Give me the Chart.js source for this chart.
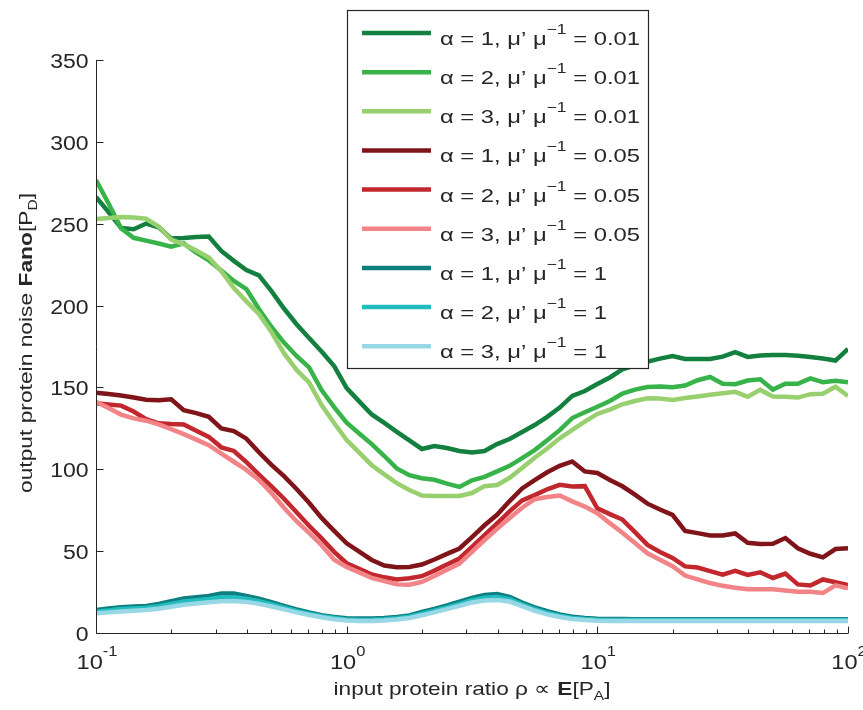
<!DOCTYPE html>
<html>
<head>
<meta charset="utf-8">
<script src="https://cdn.jsdelivr.net/npm/chart.js@4/dist/chart.umd.min.js"></script>
<style>
html,body{margin:0;padding:0;background:#fff;}
canvas{display:block;}
</style>
</head>
<body>
<canvas id="c" width="863" height="710"></canvas>
<script>
// x sample points (input protein ratio), log-spaced
const xs = [0.1,0.1122,0.1259,0.1413,0.1585,0.1778,0.1995,0.2239,0.2512,0.2818,
  0.3162,0.3548,0.3981,0.4467,0.5012,0.5623,0.631,0.7079,0.7943,0.8913,
  1,1.122,1.259,1.413,1.585,1.778,1.995,2.239,2.512,2.818,
  3.162,3.548,3.981,4.467,5.012,5.623,6.31,7.079,7.943,8.913,
  10,11.22,12.59,14.13,15.85,17.78,19.95,22.39,25.12,28.18,
  31.62,35.48,39.81,44.67,50.12,56.23,63.1,70.79,79.43,89.13,100];

// alpha = 1, mu'/mu = 0.01
const fanoA1M001 = [266.3,257.1,247.4,246.6,250.1,247.8,241,241.3,241.9,242.2,
  233.4,227.3,221.7,218.4,208.8,198.2,188.6,180.2,171.9,163,
  149.6,141.5,133.5,128.3,122.9,117.6,112.4,114.2,113,111.2,
  110.3,111.2,115.4,118.5,122.8,127,132,137.7,144.8,147.8,
  152.1,156.1,161.1,163.5,165.8,167.6,169.1,167.4,167.4,167.4,
  168.8,171.5,168.6,169.5,169.8,169.8,169.4,168.6,167.7,166.4,173.5];
// alpha = 2, mu'/mu = 0.01
const fanoA2M001 = [276.7,262.4,247.2,241.4,239.7,237.9,236,238,232.4,227.6,
  221.4,215,210.1,197.9,186.9,177.4,169.2,162.2,148.4,138,
  128.5,121.9,115.4,108.1,100.5,96.4,94.5,93.6,91.2,89.2,
  93.3,95.4,98.7,102.1,106.8,111.7,117.8,123.9,131.3,134.8,
  138.2,141.7,146.3,148.7,150.3,150.6,150.1,151.2,154.4,156.4,
  152.3,152,154.2,155,148.7,152.3,152.2,155.5,153.2,154,153.1];
// alpha = 3, mu'/mu = 0.01
const fanoA3M001 = [252.9,253.5,254.1,253.8,253,248.3,240.3,237.4,233.6,229.4,
  221,210.7,202.6,194.9,183.8,170.9,160.7,153.1,139.2,128.3,
  117.9,110.2,102.5,96.9,91.5,87.3,84,83.7,83.7,83.7,
  85.5,89.7,90.4,94.8,100.8,107.1,112.7,118.9,124,129.1,
  133.8,136.5,139.7,141.7,143.4,143.3,142.4,143.5,144.5,145.5,
  146.5,147.3,144.3,148.5,144.5,144.3,143.8,145.9,146.2,150.4,144.8];
// alpha = 1, mu'/mu = 0.05
const fanoA1M005 = [146.8,146,145.1,143.9,142.5,142.2,142.7,136.1,134.3,132.1,
  125,123.3,118.7,110.4,102.7,95.8,88,79.5,70.3,62.4,
  54.8,49.7,44.6,41.2,40.1,40.3,41.8,44.9,48.3,51.6,
  58.6,65.8,72.2,80.6,88.3,93.4,98.2,102.1,104.8,98.7,
  97.7,93.5,89.6,84.5,79,75.4,72.1,62.3,61,59.6,
  59.5,60.8,55.1,54.4,54.5,58,51.7,48.4,46.2,51.3,51.7];
// alpha = 2, mu'/mu = 0.05
const fanoA2M005 = [140.3,139.6,138.9,135.3,130.6,128.1,127.6,127.3,123.5,119.8,
  113.4,111.2,104.4,96.8,89.5,82,73.8,65.5,57.8,49.6,
  42.6,39.2,35.7,34,32.7,33.4,34.7,38.1,41.8,45.5,
  52.6,59.8,67,74.3,81,84.2,87.8,90.5,89.5,89.7,
  76.2,72.6,69.3,61.6,53.8,49.5,45.9,40.7,40,37.8,
  35.6,38,35.5,37.1,33.6,36.3,29.7,29,32.7,31,29.3];
// alpha = 3, mu'/mu = 0.05
const fanoA3M005 = [141.3,137.4,133.4,131.1,129.7,127.4,124.5,121.5,118.1,114.7,
  109.6,104.6,99.6,93.5,85.5,76.5,68.3,61.1,53.6,44.7,
  40.3,37,33.7,31.7,29.7,29.5,31.2,34.8,38.6,42.4,
  49.5,56.8,63.6,70.2,76.5,81.7,83.1,84,80.4,77.2,
  73.2,67.1,61.3,55,48.7,44.8,40.8,35.1,32.8,30.5,
  28.8,27.7,26.7,26.7,26.7,25.9,25.2,25.2,24.4,29.1,27.3];
// alpha = 1, mu'/mu = 1
const fanoA1M1 = [14,14.9,15.8,16.2,16.5,17.7,19.4,21.1,21.8,22.6,
  24.2,24.1,22.7,20.9,18.9,16.5,14.4,12.5,10.8,9.8,
  9,8.8,8.9,9.2,9.8,10.7,12.8,14.7,16.8,19.1,
  21.5,23.2,23.8,22,18.6,15.7,13.3,11.3,9.9,9.2,
  8.7,8.5,8.5,8.4,8.4,8.4,8.4,8.4,8.4,8.4,
  8.4,8.4,8.4,8.4,8.4,8.4,8.4,8.4,8.4,8.4,8.4];
// alpha = 2, mu'/mu = 1
const fanoA2M1 = [13,13.8,14.6,15,15.4,16.4,17.8,19.2,20,20.8,
  21.8,21.9,21,19.4,17.6,15.5,13.5,11.8,10.2,9.1,
  8.3,8,8.1,8.4,9,10,11.8,13.6,15.7,17.8,
  20,21.5,22,20.6,17.5,14.6,12.3,10.5,9.2,8.5,
  8.1,8,8,8,8,8,8,8,8,8,
  8,8,8,8,8,8,8,8,8,8,8];
// alpha = 3, mu'/mu = 1
const fanoA3M1 = [12,12.6,13.2,13.6,14,14.8,16,17.2,18,18.8,
  19.4,19.5,19,17.8,16.2,14.4,12.6,11,9.6,8.4,
  7.6,7.3,7.3,7.6,8.2,9.2,10.8,12.6,14.6,16.6,
  18.6,19.8,20.1,19.2,16.4,13.6,11.4,9.8,8.6,7.9,
  7.5,7.4,7.4,7.3,7.3,7.3,7.3,7.3,7.3,7.3,
  7.3,7.3,7.3,7.3,7.3,7.3,7.3,7.3,7.3,7.3,7.3];

const seriesValues = [fanoA1M001, fanoA2M001, fanoA3M001, fanoA1M005, fanoA2M005, fanoA3M005, fanoA1M1, fanoA2M1, fanoA3M1];
const legendAlpha = ['1','2','3','1','2','3','1','2','3'];
const legendRatio = ['0.01','0.01','0.01','0.05','0.05','0.05','1','1','1'];
const seriesColors = ['#13803f','#37b34a','#98cf6f','#7f1419','#c1272d','#f28386','#0f7e7f','#21bcbd','#98d8e6'];

const yTicks = [0,50,100,150,200,250,300,350];
const xDecades = [0.1,1,10,100];
const xDecadeExp = ['-1','0','1','2'];

const FONT = '"Liberation Sans", Arial, Helvetica, sans-serif';
const TXT = '#262626';

function measureRich(ctx, parts) {
  let total = 0;
  for (const p of parts) {
    ctx.font = (p.bold ? 'bold ' : '') + p.size + 'px ' + FONT;
    p.w = ctx.measureText(p.t).width;
    total += p.w;
  }
  return total;
}
function drawRich(ctx, parts, x, y, align, sx) {
  sx = sx || 1;
  const total = measureRich(ctx, parts) * sx;
  let start = align === 'center' ? x - total / 2 : (align === 'right' ? x - total : x);
  ctx.save();
  ctx.translate(start, y);
  ctx.scale(sx, 1);
  ctx.textAlign = 'left';
  ctx.textBaseline = 'alphabetic';
  let cx = 0;
  for (const p of parts) {
    ctx.font = (p.bold ? 'bold ' : '') + p.size + 'px ' + FONT;
    ctx.fillText(p.t, cx, p.dy || 0);
    cx += p.w;
  }
  ctx.restore();
  return total;
}

const decorPlugin = {
  id: 'decor',
  afterDraw(chart) {
    const ctx = chart.ctx;
    const xS = chart.scales.x, yS = chart.scales.y;
    const ca = chart.chartArea;
    ctx.save();
    ctx.strokeStyle = TXT;
    ctx.fillStyle = TXT;
    ctx.lineWidth = 1;
    const L = Math.round(ca.left) + 0.5, B = Math.round(ca.bottom) + 0.5;
    ctx.beginPath();
    ctx.moveTo(L, ca.top); ctx.lineTo(L, B); ctx.lineTo(ca.right, B);
    ctx.stroke();
    ctx.beginPath();
    for (const v of yTicks) {
      const py = Math.round(yS.getPixelForValue(v)) + 0.5;
      ctx.moveTo(L, py); ctx.lineTo(L + 7, py);
    }
    for (let d = 0; d < xDecades.length; d++) {
      const dec = xDecades[d];
      const px = Math.round(xS.getPixelForValue(dec)) + 0.5;
      ctx.moveTo(px, B); ctx.lineTo(px, B - 7);
      if (d < xDecades.length - 1) {
        for (let m = 2; m <= 9; m++) {
          const pm = Math.round(xS.getPixelForValue(dec * m)) + 0.5;
          ctx.moveTo(pm, B); ctx.lineTo(pm, B - 4);
        }
      }
    }
    ctx.stroke();
    // y tick labels
    for (const v of yTicks) {
      drawRich(ctx, [{t:String(v), size:20}], L - 8, yS.getPixelForValue(v) + 8, 'right', 1.15);
    }
    // x tick labels
    for (let d = 0; d < xDecades.length; d++) {
      const px = xS.getPixelForValue(xDecades[d]);
      drawRich(ctx, [{t:'10', size:20}, {t:xDecadeExp[d], size:14, dy:-13}], px + 1, 669, 'center', 1.18);
    }
    // axis titles
    const xt = [
      {t:'input protein ratio \u03c1 \u221d ', size:19},
      {t:'E', size:19, bold:true},
      {t:'[P', size:19},
      {t:'A', size:13, dy:5},
      {t:']', size:19}
    ];
    drawRich(ctx, xt, (ca.left + ca.right) / 2, 695, 'center', 277 / measureRich(ctx, xt));
    const yt = [
      {t:'output protein noise ', size:19},
      {t:'Fano', size:19, bold:true},
      {t:'[P', size:19},
      {t:'D', size:13, dy:5},
      {t:']', size:19}
    ];
    ctx.save();
    ctx.translate(32, 343);
    ctx.rotate(-Math.PI / 2);
    drawRich(ctx, yt, 0, 0, 'center', 300 / measureRich(ctx, yt));
    ctx.restore();
    // legend
    const bx = 347.5, by = 10.5, bw = 301, bh = 358;
    ctx.fillStyle = '#ffffff';
    ctx.fillRect(bx, by, bw, bh);
    ctx.strokeStyle = TXT;
    ctx.lineWidth = 1.2;
    ctx.strokeRect(bx, by, bw, bh);
    const legParts = i => [
      {t:'\u03b1 = ' + legendAlpha[i] + ', \u03bc\u2019 \u03bc', size:19},
      {t:'\u22121', size:14, dy:-11},
      {t:' = ' + legendRatio[i], size:19}
    ];
    const lsx = 200 / measureRich(ctx, legParts(0));
    for (let i = 0; i < seriesValues.length; i++) {
      const ly = 33 + i * 39.15;
      ctx.strokeStyle = seriesColors[i];
      ctx.lineWidth = 4.5;
      ctx.beginPath();
      ctx.moveTo(362, ly); ctx.lineTo(431, ly);
      ctx.stroke();
      ctx.fillStyle = TXT;
      drawRich(ctx, legParts(i), 440, ly + 12, 'left', lsx);
    }
    ctx.restore();
  }
};

const datasets = seriesValues.map((vals, i) => ({
  label: '\u03b1 = ' + legendAlpha[i] + ', \u03bc\u2019 \u03bc\u207b\u00b9 = ' + legendRatio[i],
  data: xs.map((x, k) => ({x: x, y: vals[k]})),
  borderColor: seriesColors[i],
  backgroundColor: seriesColors[i],
  borderWidth: 4.5,
  pointRadius: 0,
  tension: 0,
  fill: false,
  order: seriesValues.length - i
}));

new Chart(document.getElementById('c'), {
  type: 'line',
  data: { datasets: datasets },
  options: {
    responsive: false,
    animation: false,
    layout: { padding: { left: 96, right: 15, top: 60, bottom: 77 } },
    scales: {
      x: { type: 'logarithmic', min: 0.1, max: 100, display: false },
      y: { type: 'linear', min: 0, max: 350, display: false }
    },
    plugins: { legend: { display: false }, tooltip: { enabled: false } },
    elements: { line: { borderJoinStyle: 'miter', borderCapStyle: 'butt' } }
  },
  plugins: [decorPlugin]
});
</script>
</body>
</html>
